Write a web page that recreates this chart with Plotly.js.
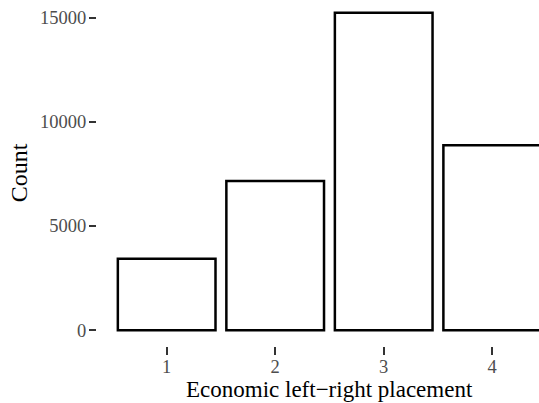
<!DOCTYPE html>
<html>
<head>
<meta charset="utf-8">
<script src="https://cdn.plot.ly/plotly-3.0.1.min.js"></script>
<style>
  html, body { margin: 0; padding: 0; background: #fff; }
  #chart { width: 539px; height: 403px; }
</style>
</head>
<body>
<div id="chart"></div>
<script>
    // Economic left-right placement, counts
    var placement = [ 1, 2, 3, 4 ];
    var counts = [ 3420, 7150, 15230, 8870 ];
    var yTicks = [ 0, 5000, 10000, 15000 ];

    var serif = 'Liberation Serif, Times New Roman, serif';

    var data = [ {
        type: 'bar',
        x: placement,
        y: counts,
        width: 0.9,
        marker: {
            color: '#ffffff',
            line: { color: '#000000', width: 2.5 }
        },
        hoverinfo: 'x+y'
    } ];

    var layout = {
        width: 539,
        height: 403,
        margin: { l: 97, r: 0, t: 0, b: 57 },
        paper_bgcolor: '#ffffff',
        plot_bgcolor: '#ffffff',
        showlegend: false,
        font: { family: serif, color: '#000000' },
        xaxis: {
            range: [ 0.358, 4.431 ],
            tickvals: placement,
            ticktext: placement.map( String ),
            ticks: 'outside',
            ticklen: 8,
            tickwidth: 2,
            tickcolor: '#333333',
            ticklabelstandoff: -4,
            tickfont: { family: serif, size: 18.5, color: '#4d4d4d' },
            showgrid: false,
            zeroline: false,
            showline: false
        },
        yaxis: {
            range: [ -761, 15840 ],
            tickvals: yTicks,
            ticktext: yTicks.map( String ),
            ticks: 'outside',
            ticklen: 7,
            tickwidth: 2,
            tickcolor: '#333333',
            ticklabelstandoff: -1,
            tickfont: { family: serif, size: 18.5, color: '#4d4d4d' },
            showgrid: false,
            zeroline: false,
            showline: false,
            title: {
                text: 'Count',
                font: { family: serif, size: 24, color: '#000000' },
                standoff: 5
            }
        },
        annotations: [ {
            text: 'Economic left\u2212right placement',
            xref: 'x',
            yref: 'paper',
            x: 2.5,
            y: -0.126,
            xanchor: 'center',
            yanchor: 'middle',
            showarrow: false,
            font: { family: serif, size: 23, color: '#000000' }
        } ]
    };

    Plotly.newPlot( 'chart', data, layout, { displayModeBar: false, staticPlot: true } );
</script>
</body>
</html>
